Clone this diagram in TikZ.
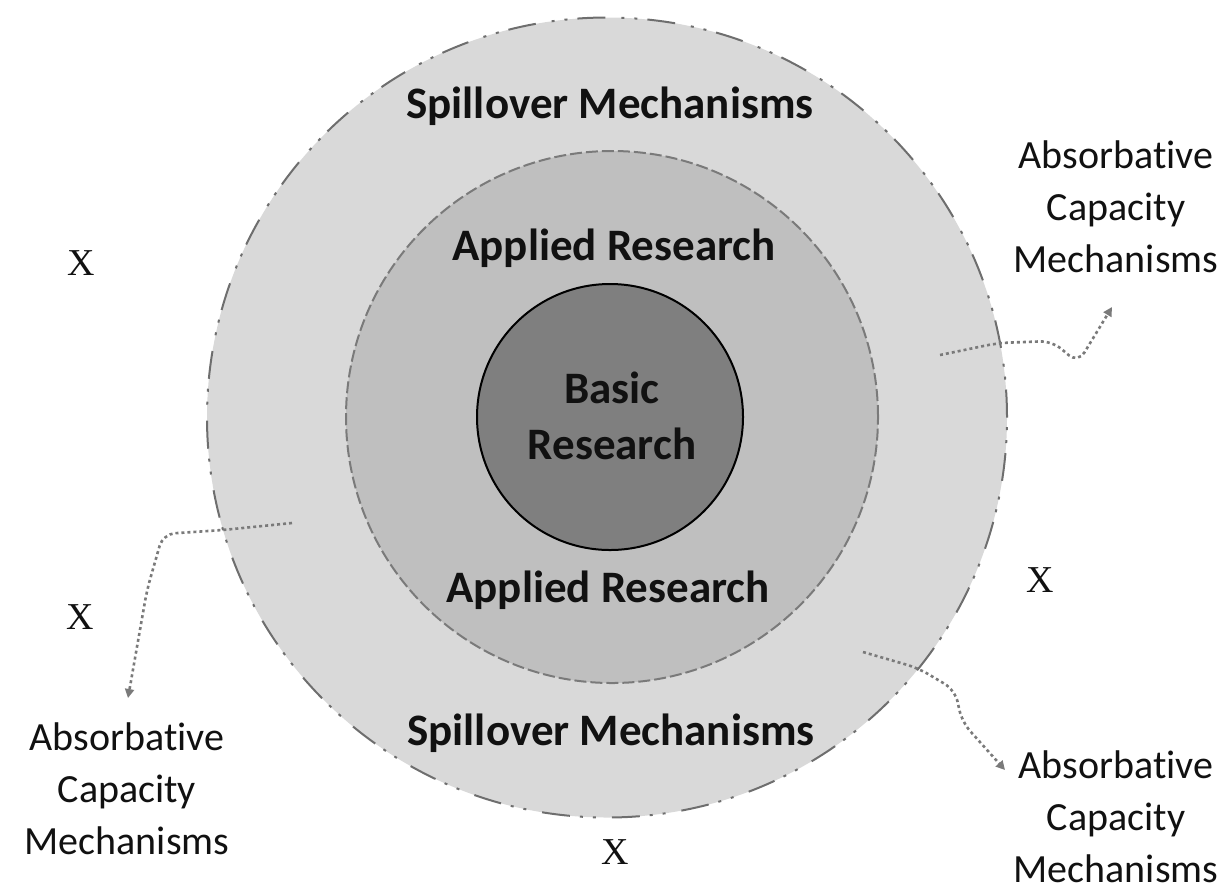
\documentclass[tikz,border=0pt]{standalone}
\usepackage{fontspec}
\setmainfont[Ligatures=NoCommon]{Carlito}
\newfontfamily\crossfont{Liberation Serif}
\usetikzlibrary{arrows.meta}
\definecolor{ink}{HTML}{111111}
\definecolor{ringout}{HTML}{D9D9D9}
\definecolor{ringmid}{HTML}{BFBFBF}
\definecolor{core}{HTML}{7F7F7F}
\definecolor{edge}{HTML}{6E6E6E}
\definecolor{flow}{HTML}{7A7A7A}
\tikzset{
  ringtxt/.style={anchor=base, inner sep=0pt, text=ink, font=\fontsize{22.5}{28}\selectfont\bfseries, align=center},
  abstxt/.style={anchor=base, inner sep=0pt, text=ink, font=\fontsize{20}{26}\selectfont, align=center},
  crosstxt/.style={anchor=base, inner sep=0pt, text=ink, font=\crossfont\fontsize{19}{22}\selectfont},
  flowline/.style={draw=flow, line width=1.3pt, dash pattern=on 1.5pt off 1.5pt, rounded corners=6pt,
    -{Triangle[length=4.5pt,width=4.5pt]}}
}
% base anchor of a multi-line node sits on its last line
\newcommand{\absorb}[2]{%
  \node[abstxt] (#1) at (#2) {Absorbative\\Capacity\\Mechanisms};}
\newcommand{\cross}[2]{%
  \node[crosstxt] (#1) at (#2) {X};}

\begin{document}
\begin{tikzpicture}[x=0.5pt,y=-0.5pt]
\useasboundingbox (0,0) rectangle (1224,890);

% ---------- rings (outer first, core on top)
\node[circle, inner sep=0pt, minimum size=400pt, fill=ringout, draw=edge, line width=1pt,
      dash pattern=on 14pt off 5pt on 1.5pt off 5pt on 1.5pt off 8pt] (outer) at (607,417.5) {};
\node[circle, inner sep=0pt, minimum size=266pt, fill=ringmid, draw=flow, line width=1pt,
      dash pattern=on 6pt off 2pt] (middle) at (612,417) {};
\node[circle, inner sep=0pt, minimum size=133pt, fill=core, draw=black, line width=1pt] (basic) at (610,417) {};

% ---------- ring labels
\node[ringtxt] (spillT) at (610,118) {Spillover Mechanisms};
\node[ringtxt] (applT) at (614,260) {Applied Research};
\node[ringtxt] (basicT) at (612,459) {Basic\\Research};
\node[ringtxt] (applB) at (608,602) {Applied Research};
\node[ringtxt] (spillB) at (611,745) {Spillover Mechanisms};

% ---------- outside
\cross{xNW}{81,275}
\cross{xW}{80,629}
\cross{xE}{1040,592}
\cross{xS}{615,864}
\absorb{absTR}{1116,272}
\absorb{absL}{127,854}
\absorb{absBR}{1116,882}

% ---------- spill-out paths
\coordinate (srcTR) at (940,355);
\coordinate (tipTR) at (1112,307);
\coordinate (srcL) at (292,523);
\coordinate (tipL) at (128,698);
\coordinate (srcBR) at (863,652);
\coordinate (tipBR) at (1005,770);
\draw[flowline] (srcTR) -- (998,343) -- (1052,341) -- (1078,363) -- (tipTR);
\draw[flowline] (srcL) -- (223,530) -- (163,534) -- (147,590) -- (tipL);
\draw[flowline] (srcBR) -- (918,668) -- (955,690) -- (962,722) -- (tipBR);

\end{tikzpicture}
\end{document}
